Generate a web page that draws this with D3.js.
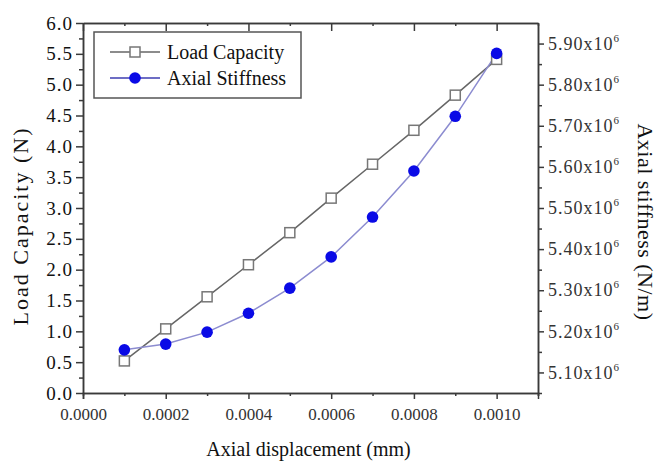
<!DOCTYPE html>
<html>
<head>
<meta charset="utf-8">
<script src="https://cdn.jsdelivr.net/npm/d3@7"></script>
<style>
  body { margin: 0; background: #fff; }
  svg, svg text { font-family: "Liberation Serif", "Times New Roman", serif; }
  svg { display: block; }
</style>
</head>
<body>
<div id="chart"></div>
<script>
'use strict';

// data
var displacement = [0.0001, 0.0002, 0.0003, 0.0004, 0.0005, 0.0006, 0.0007, 0.0008, 0.0009, 0.0010];
var loadCapacity = [0.52, 1.04, 1.56, 2.08, 2.60, 3.16, 3.71, 4.26, 4.83, 5.41];
var axialStiffness = [5.155e6, 5.169e6, 5.198e6, 5.244e6, 5.305e6, 5.381e6, 5.478e6, 5.590e6, 5.723e6, 5.876e6];

var xTicks = [0, 0.0002, 0.0004, 0.0006, 0.0008, 0.0010];
var xMinor = [0.0001, 0.0003, 0.0005, 0.0007, 0.0009, 0.0011];
var yLeftTicks = [0, 0.5, 1, 1.5, 2, 2.5, 3, 3.5, 4, 4.5, 5, 5.5, 6];
var yLeftMinor = [0.25, 0.75, 1.25, 1.75, 2.25, 2.75, 3.25, 3.75, 4.25, 4.75, 5.25, 5.75];
var yRightTicks = [5.1e6, 5.2e6, 5.3e6, 5.4e6, 5.5e6, 5.6e6, 5.7e6, 5.8e6, 5.9e6];
var yRightMinor = [5.05e6, 5.15e6, 5.25e6, 5.35e6, 5.45e6, 5.55e6, 5.65e6, 5.75e6, 5.85e6];

var W = 662, H = 461;
var mLeft = 83, mRight = 538, mTop = 23, mBottom = 393;

var svg = d3.select("#chart").append("svg").attr("width", W).attr("height", H);

var x = d3.scaleLinear().domain([0, 0.0011]).range([mLeft, mRight]);
var yL = d3.scaleLinear().domain([0, 6]).range([mBottom, mTop]);
var yR = d3.scaleLinear().domain([5.05e6, 5.95e6]).range([mBottom, mTop]);

var axisColor = "#3a3a3a";
var serif = '"Liberation Serif", "Times New Roman", serif';

function styleAxis(g) {
  g.attr("font-family", null);
  g.select(".domain").attr("stroke", axisColor).attr("stroke-width", 1.5);
  g.selectAll(".tick line").attr("stroke", axisColor).attr("stroke-width", 1.5);
}

// bottom axis
var gx = svg.append("g").attr("transform", "translate(0," + mBottom + ")")
  .call(d3.axisBottom(x).tickValues(xTicks).tickSize(6).tickPadding(9).tickFormat(d3.format(".4f")));
styleAxis(gx);
gx.selectAll("text").style("font-family", serif).style("font-size", "17px").attr("fill", "#333");
svg.append("g").attr("transform", "translate(0," + mBottom + ")")
  .call(d3.axisBottom(x).tickValues(xMinor).tickSize(3).tickFormat(""))
  .call(styleAxis);

// top axis, ticks pointing in
svg.append("g").attr("transform", "translate(0," + mTop + ")")
  .call(d3.axisBottom(x).tickValues(xTicks).tickSize(8).tickFormat("").tickSizeOuter(0))
  .call(styleAxis);
svg.append("g").attr("transform", "translate(0," + mTop + ")")
  .call(d3.axisBottom(x).tickValues(xMinor).tickSize(3).tickFormat("").tickSizeOuter(0))
  .call(styleAxis);

// left axis
var gyl = svg.append("g").attr("transform", "translate(" + mLeft + ",0)")
  .call(d3.axisLeft(yL).tickValues(yLeftTicks).tickSize(7).tickPadding(3).tickSizeOuter(0).tickFormat(d3.format(".1f")));
styleAxis(gyl);
gyl.selectAll("text").style("font-family", serif).style("font-size", "19px")
  .attr("fill", "#111").attr("letter-spacing", 1);
svg.append("g").attr("transform", "translate(" + mLeft + ",0)")
  .call(d3.axisLeft(yL).tickValues(yLeftMinor).tickSize(4).tickFormat("").tickSizeOuter(0))
  .call(styleAxis);

// right axis
var gyr = svg.append("g").attr("transform", "translate(" + mRight + ",0)")
  .call(d3.axisRight(yR).tickValues(yRightTicks).tickSize(6).tickPadding(4).tickSizeOuter(0).tickFormat(""));
styleAxis(gyr);
gyr.selectAll(".tick text").each(function(d) {
  var t = d3.select(this)
    .style("font-family", serif).style("font-size", "18px")
    .attr("fill", "#333").attr("letter-spacing", 1);
  t.append("tspan").text((d / 1e6).toFixed(2) + "x10");
  t.append("tspan").style("font-size", "11px").attr("dy", -8).text("6");
});
svg.append("g").attr("transform", "translate(" + mRight + ",0)")
  .call(d3.axisRight(yR).tickValues(yRightMinor).tickSize(4).tickFormat("").tickSizeOuter(0))
  .call(styleAxis);

// axis titles
svg.append("text")
  .attr("x", (mLeft + mRight) / 2 - 2).attr("y", 456)
  .attr("text-anchor", "middle").attr("font-size", 20).attr("fill", "#111")
  .text("Axial displacement (mm)");

svg.append("text")
  .attr("transform", "translate(28,226) rotate(-90)")
  .attr("text-anchor", "middle").attr("font-size", 22).attr("fill", "#111").attr("letter-spacing", 2)
  .text("Load Capacity (N)");

svg.append("text")
  .attr("transform", "translate(638,222) rotate(90)")
  .attr("text-anchor", "middle").attr("font-size", 22).attr("fill", "#111").attr("letter-spacing", 0.5)
  .text("Axial stiffness (N/m)");

// series
var loadLine = d3.line().x(function(d, i) { return x(displacement[i]); }).y(function(d) { return yL(d); });
var stiffLine = d3.line().x(function(d, i) { return x(displacement[i]); }).y(function(d) { return yR(d); });

svg.append("path").datum(loadCapacity).attr("d", loadLine)
  .attr("fill", "none").attr("stroke", "#666").attr("stroke-width", 1.5);
svg.append("path").datum(axialStiffness).attr("d", stiffLine)
  .attr("fill", "none").attr("stroke", "#8c8cd0").attr("stroke-width", 1.5);

svg.selectAll("rect.load").data(loadCapacity).enter().append("rect")
  .attr("class", "load")
  .attr("x", function(d, i) { return x(displacement[i]) - 5; })
  .attr("y", function(d) { return yL(d) - 5; })
  .attr("width", 10).attr("height", 10)
  .attr("fill", "#fff").attr("stroke", "#777").attr("stroke-width", 1.5);

svg.selectAll("circle.stiff").data(axialStiffness).enter().append("circle")
  .attr("class", "stiff")
  .attr("cx", function(d, i) { return x(displacement[i]); })
  .attr("cy", function(d) { return yR(d); })
  .attr("r", 5.8)
  .attr("fill", "#0a0ae6");

// legend
var lg = svg.append("g");
lg.append("rect").attr("x", 94).attr("y", 32).attr("width", 207).attr("height", 66)
  .attr("fill", "#fff").attr("stroke", "#555").attr("stroke-width", 1.5);
lg.append("line").attr("x1", 110).attr("x2", 160).attr("y1", 52).attr("y2", 52)
  .attr("stroke", "#666").attr("stroke-width", 1.5);
lg.append("rect").attr("x", 130).attr("y", 47).attr("width", 10).attr("height", 10)
  .attr("fill", "#fff").attr("stroke", "#777").attr("stroke-width", 1.5);
lg.append("text").attr("x", 167).attr("y", 59).attr("font-size", 20).attr("fill", "#111")
  .text("Load Capacity");
lg.append("line").attr("x1", 110).attr("x2", 160).attr("y1", 78).attr("y2", 78)
  .attr("stroke", "#3c3cb0").attr("stroke-width", 1.5);
lg.append("circle").attr("cx", 135).attr("cy", 78).attr("r", 5.8).attr("fill", "#0a0ae6");
lg.append("text").attr("x", 167).attr("y", 85).attr("font-size", 20).attr("fill", "#111")
  .text("Axial Stiffness");
</script>
</body>
</html>
